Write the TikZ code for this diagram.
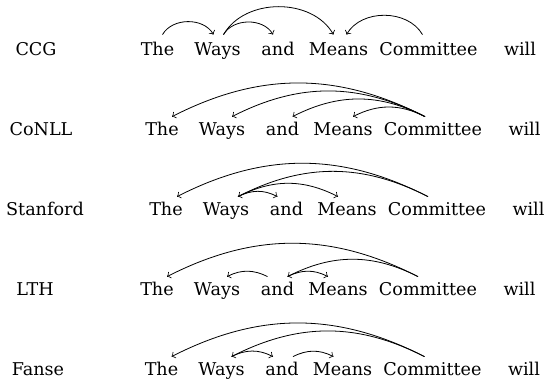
\documentclass[tikz,border=0pt]{standalone}
\usepackage{fontspec}
\setmainfont{DejaVu Serif}
\begin{document}
\begin{tikzpicture}[x=0.5pt, y=-0.5pt, >=to, bend angle=27, font=\fontsize{8.8}{10}\selectfont,
  word/.style={inner xsep=0pt, inner ysep=2.5pt, text height=6.5pt, text depth=0pt, anchor=base}]
\useasboundingbox (0,0) rectangle (546,382);

% CCG
\node[anchor=base] (ccg) at (36,55) {CCG};
\node[word] (the1) at (157.5,55) {The};
\node[word] (ways1) at (217.5,55) {Ways};
\node[word] (and1) at (278,55) {and};
\node[word] (means1) at (338.5,55) {Means};
\node[word] (com1) at (428.5,55) {Committee};
\node[word] (will1) at (520,55) {will};

\draw[->] ([xshift=2.5pt,yshift=1pt]the1.north) to[bend left=60] ([xshift=-2pt,yshift=1pt]ways1.north);
\draw[->] ([xshift=3pt,yshift=1pt]ways1.north) to[bend left=60] ([xshift=-2.5pt,yshift=1pt]and1.north);
\draw[->] ([xshift=3pt,yshift=1pt]ways1.north) to[bend left=60] ([xshift=-2.5pt,yshift=1pt]means1.north);
\draw[->] ([xshift=-3pt,yshift=1pt]com1.north) to[bend right=60] ([xshift=4pt,yshift=1pt]means1.north);

% CoNLL
\node[anchor=base] (conll) at (41,135) {CoNLL};
\node[word] (the2) at (162,135) {The};
\node[word] (ways2) at (222,135) {Ways};
\node[word] (and2) at (282.5,135) {and};
\node[word] (means2) at (343,135) {Means};
\node[word] (com2) at (433,135) {Committee};
\node[word] (will2) at (524.5,135) {will};

\draw[->] ([xshift=-4pt]com2.north) to[bend right] ([xshift=5pt]the2.north);
\draw[->] ([xshift=-4pt]com2.north) to[bend right] ([xshift=5pt]ways2.north);
\draw[->] ([xshift=-4pt]com2.north) to[bend right] ([xshift=5pt]and2.north);
\draw[->] ([xshift=-4pt]com2.north) to[bend right] ([xshift=5pt]means2.north);

% Stanford
\node[anchor=base] (stanford) at (45,215) {Stanford};
\node[word] (the3) at (166,215) {The};
\node[word] (ways3) at (226,215) {Ways};
\node[word] (and3) at (286.5,215) {and};
\node[word] (means3) at (347,215) {Means};
\node[word] (com3) at (437,215) {Committee};
\node[word] (will3) at (528.5,215) {will};

\draw[->] ([xshift=-4.5pt]com3.north) to[bend right] ([xshift=5.5pt]the3.north);
\draw[->] ([xshift=-4.5pt]com3.north) to[bend right] ([xshift=6pt]ways3.north);
\draw[->] ([xshift=6pt]ways3.north) to[bend left] ([xshift=-4.5pt]means3.north);
\draw[->] ([xshift=6pt]ways3.north) to[bend left] ([xshift=-4.5pt]and3.north);

% LTH
\node[anchor=base] (lth) at (35,295) {LTH};
\node[word] (the4) at (157,295) {The};
\node[word] (ways4) at (217,295) {Ways};
\node[word] (and4) at (277.5,295) {and};
\node[word] (means4) at (338,295) {Means};
\node[word] (com4) at (428,295) {Committee};
\node[word] (will4) at (519.5,295) {will};

\draw[->] ([xshift=-5pt]com4.north) to[bend right] ([xshift=5pt]the4.north);
\draw[->] ([xshift=-5pt]com4.north) to[bend right] ([xshift=5pt]and4.north);
\draw[->] ([xshift=-5pt]and4.north) to[bend right] ([xshift=5pt]ways4.north);
\draw[->] ([xshift=5pt]and4.north) to[bend left] ([xshift=-5pt]means4.north);

% Fanse
\node[anchor=base] (fanse) at (38,375) {Fanse};
\node[word] (the5) at (161.5,375) {The};
\node[word] (ways5) at (221.5,375) {Ways};
\node[word] (and5) at (282,375) {and};
\node[word] (means5) at (342.5,375) {Means};
\node[word] (com5) at (432.5,375) {Committee};
\node[word] (will5) at (524,375) {will};

\draw[->] ([xshift=-4pt]com5.north) to[bend right] ([xshift=5pt]the5.north);
\draw[->] ([xshift=-4pt]com5.north) to[bend right] ([xshift=5pt]ways5.north);
\draw[->] ([xshift=5pt]ways5.north) to[bend left] ([xshift=-4.5pt]and5.north);
\draw[->] ([xshift=5.5pt]and5.north) to[bend left] ([xshift=-4.5pt]means5.north);
\end{tikzpicture}
\end{document}
